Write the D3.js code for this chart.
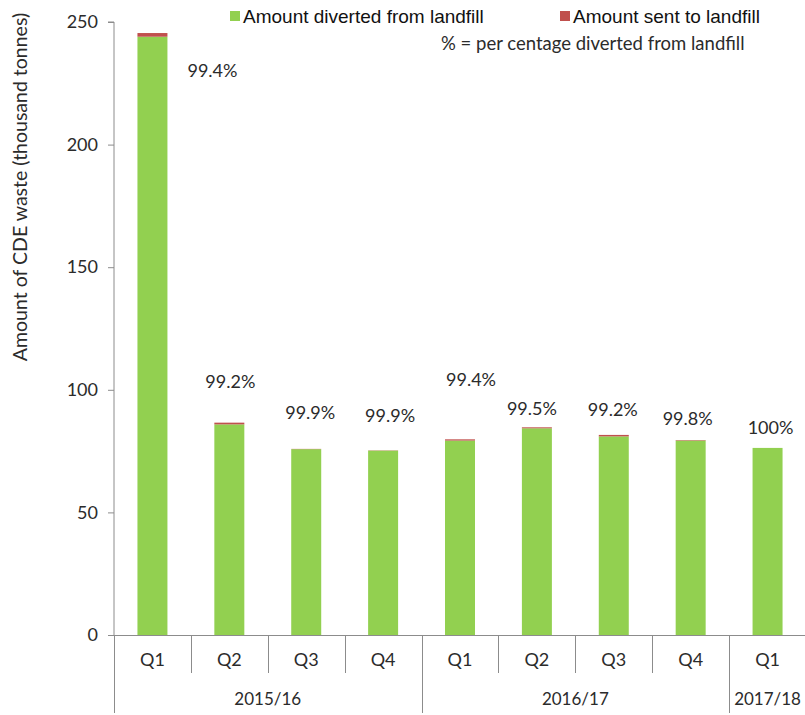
<!DOCTYPE html>
<html>
<head>
<meta charset="utf-8">
<script src="https://cdn.jsdelivr.net/npm/d3@7"></script>
<style>
  html, body { margin: 0; padding: 0; background: #fff; }
  svg { display: block; }
</style>
</head>
<body>
<svg id="chart" width="805" height="715"></svg>
<script>
// Quarterly construction, demolition and excavation (CDE) waste, thousand tonnes
const quarters = ["Q1", "Q2", "Q3", "Q4", "Q1", "Q2", "Q3", "Q4", "Q1"];
const years = ["2015/16", "2016/17", "2017/18"];
const yearOfQuarter = [0, 0, 0, 0, 1, 1, 1, 1, 2];
const diverted = [244.0, 85.9, 75.8, 75.2, 79.3, 84.3, 81.0, 79.3, 76.3];
const landfill = [1.5, 0.7, 0.1, 0.1, 0.5, 0.4, 0.6, 0.2, 0.0];
const pctLabels = ["99.4%", "99.2%", "99.9%", "99.9%", "99.4%", "99.5%", "99.2%", "99.8%", "100%"];
const yTicks = [0, 50, 100, 150, 200, 250];
const seriesNames = ["Amount diverted from landfill", "Amount sent to landfill"];

// Placement of the percentage labels (value level on the y axis, horizontal nudge in px)
const pctLevel = [230.0, 103.2, 90.5, 89.3, 104.0, 92.2, 91.8, 88.1, 84.4];
const pctNudge = [60, 1, 4, 7, 11, -5, -1, -3, 3];

const colors = { diverted: "#92D050", landfill: "#C0504D" };
const axisColor = "#8c8c8c";
const textColor = "#2b2b2b";
const axisFont = "Lato, 'Open Sans', sans-serif";
const legendFont = "'Liberation Sans', Arial, sans-serif";

const svg = d3.select("#chart");

const x = d3.scaleBand()
  .domain(d3.range(quarters.length))
  .range([114, 806])
  .paddingInner(0.61)
  .paddingOuter(0.305);

const y = d3.scaleLinear().domain([0, 250]).range([635, 22]);

// Stacked bars
const rows = quarters.map((q, i) => ({ i, diverted: diverted[i], landfill: landfill[i] }));
const stack = d3.stack().keys(["diverted", "landfill"]);
const layers = stack(rows);

svg.append("g").selectAll("g")
  .data(layers)
  .join("g")
  .attr("fill", d => colors[d.key])
  .selectAll("rect")
  .data(d => d)
  .join("rect")
  .attr("x", d => x(d.data.i))
  .attr("width", x.bandwidth())
  .attr("y", d => y(d[1]))
  .attr("height", d => Math.max(0, y(d[0]) - y(d[1])));

// Y axis
const yAxis = d3.axisLeft(y).tickValues(yTicks).tickSize(6).tickPadding(10);
const gy = svg.append("g").attr("transform", "translate(114,0)").call(yAxis);
gy.select(".domain").attr("stroke", axisColor).attr("d", `M-6,${y(250)}H0V${y(0)}`);
gy.selectAll(".tick line").attr("stroke", axisColor);
gy.selectAll(".tick text")
  .attr("fill", textColor)
  .style("font-family", axisFont)
  .style("font-size", "18px");

// Category axis: baseline, quarter dividers and year dividers
const step = x.step();
const left = x.range()[0];
const edges = d3.range(quarters.length + 1).map(k => left + k * step);
const xa = svg.append("g").attr("stroke", axisColor).attr("stroke-width", 1);
xa.append("line").attr("x1", 108).attr("x2", 806).attr("y1", y(0) + 0.5).attr("y2", y(0) + 0.5);
edges.forEach((ex, k) => {
  const isYearEdge = k === 0 || k === quarters.length || yearOfQuarter[k] !== yearOfQuarter[k - 1];
  xa.append("line")
    .attr("x1", Math.round(ex) + 0.5).attr("x2", Math.round(ex) + 0.5)
    .attr("y1", y(0)).attr("y2", isYearEdge ? 713 : 673);
});

svg.append("g").selectAll("text")
  .data(quarters)
  .join("text")
  .attr("x", (d, i) => x(i) + x.bandwidth() / 2)
  .attr("y", 660)
  .attr("dy", "0.35em")
  .attr("text-anchor", "middle")
  .attr("fill", textColor)
  .style("font-family", axisFont)
  .style("font-size", "18px")
  .text(d => d);

svg.append("g").selectAll("text")
  .data(years)
  .join("text")
  .attr("x", (d, yi) => {
    const idx = d3.range(quarters.length).filter(i => yearOfQuarter[i] === yi);
    return (edges[idx[0]] + edges[idx[idx.length - 1] + 1]) / 2;
  })
  .attr("y", 699)
  .attr("dy", "0.35em")
  .attr("text-anchor", "middle")
  .attr("fill", textColor)
  .style("font-family", axisFont)
  .style("font-size", "17px")
  .text(d => d);

// Percentage diverted labels
svg.append("g").selectAll("text")
  .data(pctLabels)
  .join("text")
  .attr("x", (d, i) => x(i) + x.bandwidth() / 2 + pctNudge[i])
  .attr("y", (d, i) => y(pctLevel[i]))
  .attr("dy", "0.35em")
  .attr("text-anchor", "middle")
  .attr("fill", textColor)
  .style("font-family", axisFont)
  .style("font-size", "18px")
  .text(d => d);

// Y axis title
svg.append("text")
  .attr("transform", "translate(20,187) rotate(-90)")
  .attr("dy", "0.35em")
  .attr("text-anchor", "middle")
  .attr("fill", textColor)
  .style("font-family", axisFont)
  .style("font-size", "19.5px")
  .text("Amount of CDE waste (thousand tonnes)");

// Legend
const legendItems = [
  { name: seriesNames[0], color: colors.diverted, x: 230 },
  { name: seriesNames[1], color: colors.landfill, x: 560 }
];
const lg = svg.append("g");
legendItems.forEach(it => {
  lg.append("rect").attr("x", it.x).attr("y", 11).attr("width", 10).attr("height", 10).attr("fill", it.color);
  lg.append("text")
    .attr("x", it.x + 13).attr("y", 16).attr("dy", "0.35em")
    .attr("fill", "#111")
    .style("font-family", legendFont)
    .style("font-size", "19px")
    .text(it.name);
});
svg.append("text")
  .attr("x", 441).attr("y", 44).attr("dy", "0.35em")
  .attr("fill", textColor)
  .style("font-family", axisFont)
  .style("font-size", "18.5px")
  .text("% = per centage diverted from landfill");
</script>
</body>
</html>
